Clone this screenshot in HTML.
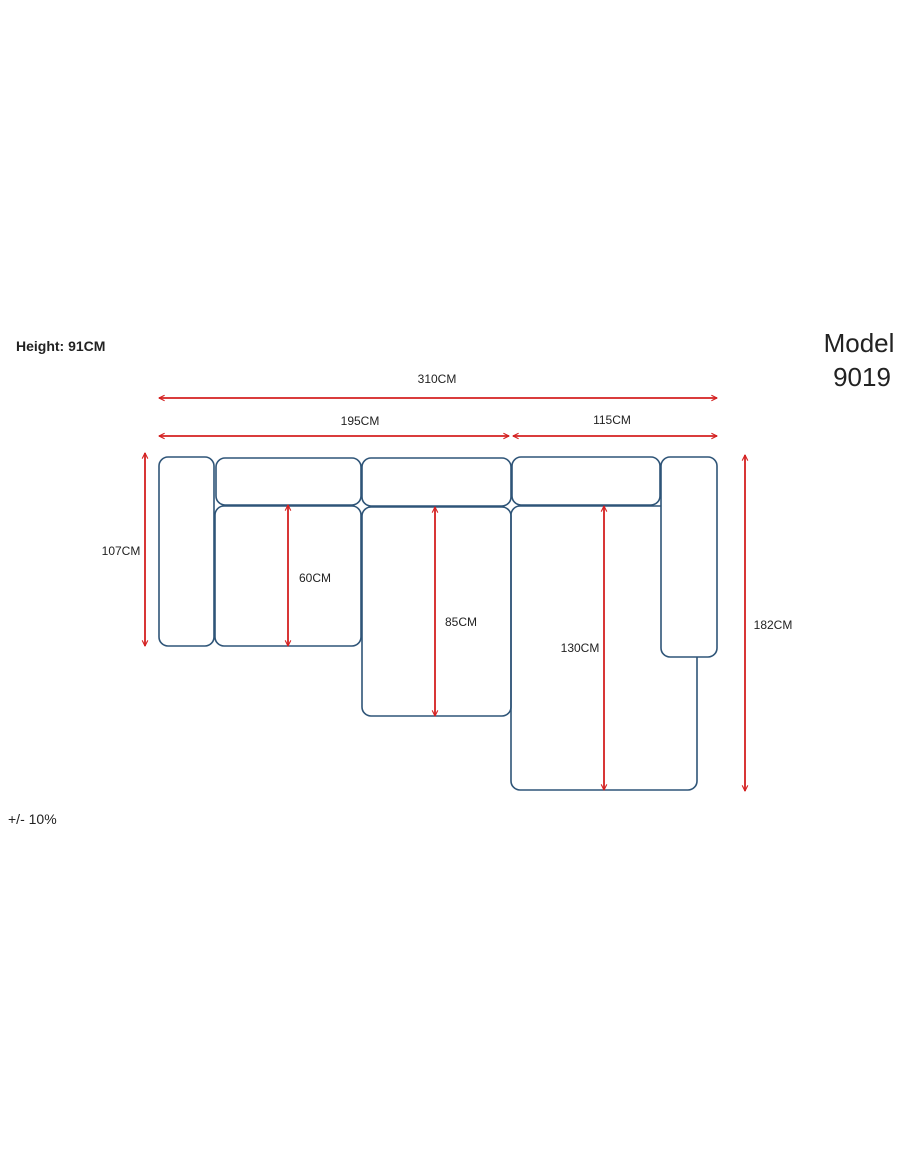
<!DOCTYPE html>
<html><head><meta charset="utf-8"><style>
html,body{margin:0;padding:0;background:#fff;width:910px;height:1155px;overflow:hidden}
svg{display:block}
text{font-family:"Liberation Sans",sans-serif;fill:#222}
</style></head><body>
<svg width="910" height="1155" viewBox="0 0 910 1155" xmlns="http://www.w3.org/2000/svg">
<defs>
<marker id="a" viewBox="0 0 10 10" refX="9" refY="5" markerWidth="7" markerHeight="7" orient="auto-start-reverse" markerUnits="userSpaceOnUse">
<path d="M1,1 L9,5 L1,9" fill="none" stroke="#d42020" stroke-width="1.6"/></marker>
</defs>
<g fill="none" stroke="#2f5578" stroke-width="1.6">
<rect x="159" y="457" width="55" height="189" rx="9"/>
<rect x="216" y="458" width="145" height="47" rx="9"/>
<rect x="215" y="506" width="146" height="140" rx="9"/>
<rect x="362" y="458" width="149" height="48" rx="9"/>
<rect x="362" y="507" width="149" height="209" rx="9"/>
<rect x="512" y="457" width="148" height="48" rx="9"/>
<rect x="511" y="506" width="186" height="284" rx="9"/>
<rect x="661" y="457" width="56" height="200" rx="9" fill="#fff"/>
</g>
<g stroke="#d42020" stroke-width="1.8" marker-start="url(#a)" marker-end="url(#a)">
<line x1="159" y1="398" x2="717" y2="398"/>
<line x1="159" y1="436" x2="509" y2="436"/>
<line x1="513" y1="436" x2="717" y2="436"/>
<line x1="145" y1="453" x2="145" y2="646"/>
<line x1="745" y1="455" x2="745" y2="791"/>
<line x1="288" y1="505" x2="288" y2="646"/>
<line x1="435" y1="507" x2="435" y2="716"/>
<line x1="604" y1="506" x2="604" y2="790"/>
</g>
<g font-size="12">
<text x="437" y="383" text-anchor="middle">310CM</text>
<text x="360" y="425" text-anchor="middle">195CM</text>
<text x="612" y="424" text-anchor="middle">115CM</text>
<text x="121" y="555" text-anchor="middle">107CM</text>
<text x="315" y="582" text-anchor="middle">60CM</text>
<text x="461" y="626" text-anchor="middle">85CM</text>
<text x="580" y="652" text-anchor="middle">130CM</text>
<text x="773" y="629" text-anchor="middle">182CM</text>
</g>
<text x="16" y="351" font-size="14" font-weight="bold">Height: 91CM</text>
<text x="859" y="352" font-size="26" text-anchor="middle">Model</text>
<text x="862" y="386" font-size="26" text-anchor="middle">9019</text>
<text x="8" y="824" font-size="14">+/- 10%</text>
</svg>
</body></html>
